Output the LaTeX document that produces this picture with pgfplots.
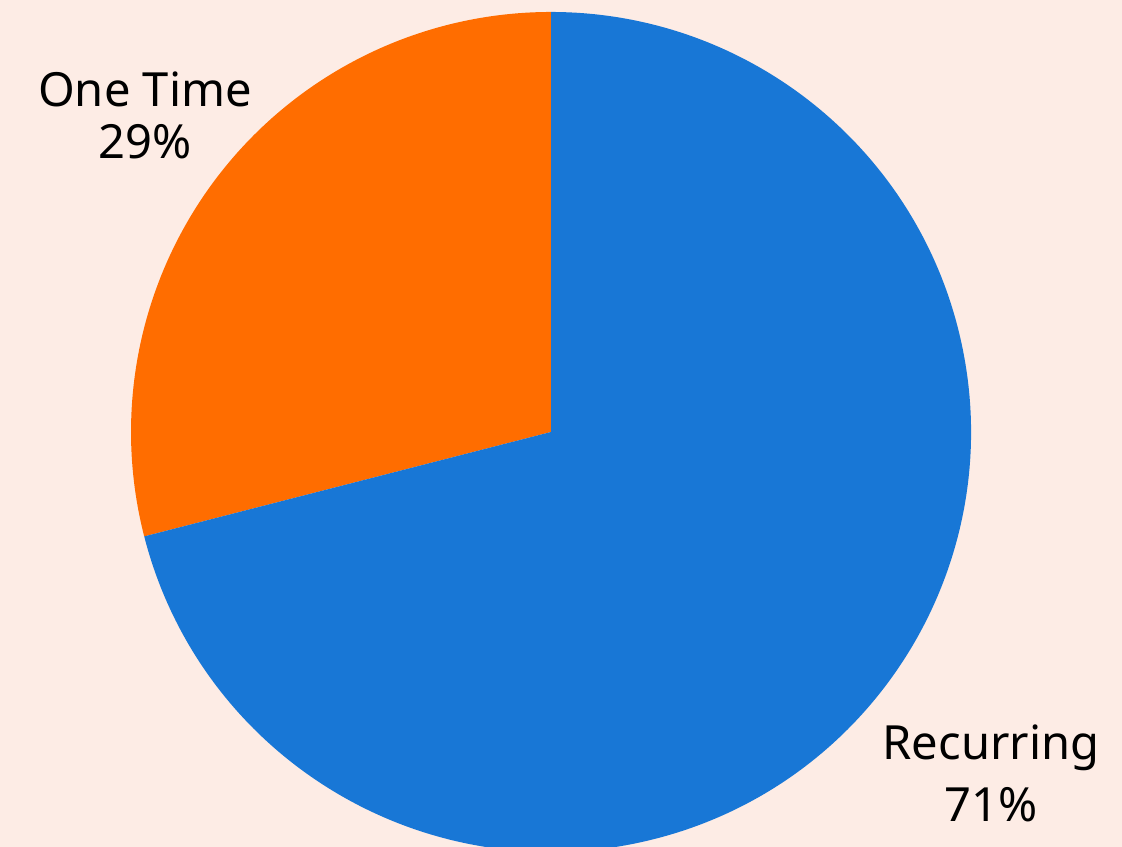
\documentclass[border=0pt]{standalone}
\usepackage{pgfplots}
\pgfplotsset{compat=1.18}
\usepackage{pgfplotstable}
\usepackage{fontspec}
\setmainfont{Noto Sans}
\definecolor{bgc}{HTML}{FDECE5}
\definecolor{cblue}{HTML}{1877D6}
\definecolor{corange}{HTML}{FF6D00}
\pgfplotstableread{
label value
OneTime 29
Recurring 71
}\piedata
\begin{document}
\begin{tikzpicture}
\clip (0,0) rectangle (11.22cm,8.47cm);
\begin{axis}[
  scale only axis, width=11.22cm, height=8.47cm,
  xmin=0, xmax=1122, ymin=0, ymax=847,
  hide axis, clip=true,
]
\pgfplotstablegetelem{0}{value}\of\piedata \pgfmathsetmacro{\vone}{\pgfplotsretval}
\pgfplotstablegetelem{1}{value}\of\piedata \pgfmathsetmacro{\vtwo}{\pgfplotsretval}
\pgfmathsetmacro{\aone}{90+3.6*\vone}
\pgfmathsetmacro{\atwo}{\aone+3.6*\vtwo}
\fill[bgc] (axis cs:0,0) rectangle (axis cs:1122,847);
\fill[corange] (axis cs:551,415) -- ++(90:42mm) arc[start angle=90, end angle=\aone, radius=42mm] -- cycle;
\fill[cblue] (axis cs:551,415) -- ++(\aone:42mm) arc[start angle=\aone, end angle=\atwo, radius=42mm] -- cycle;
\node[anchor=base, font=\fontsize{13.4}{15}\selectfont] at (axis cs:145,740) {One Time};
\node[anchor=base, font=\fontsize{13.4}{15}\selectfont] at (axis cs:145,688) {29\%};
\node[anchor=base, font=\fontsize{13.4}{15}\selectfont] at (axis cs:991,87) {Recurring};
\node[anchor=base, font=\fontsize{13.4}{15}\selectfont] at (axis cs:991,25) {71\%};
\end{axis}
\end{tikzpicture}
\end{document}
